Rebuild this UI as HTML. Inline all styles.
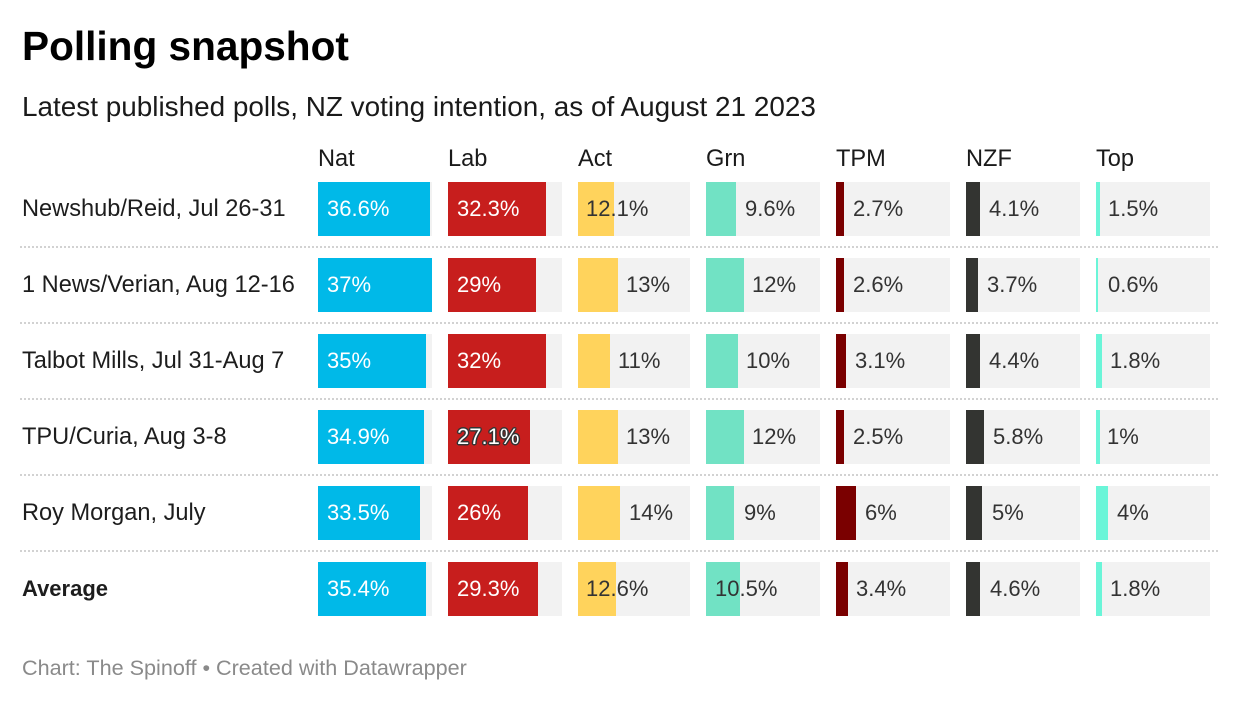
<!DOCTYPE html>
<html>
<head>
<meta charset="utf-8">
<style>
  html,body{margin:0;padding:0;background:#fff;}
  body{width:1240px;height:702px;position:relative;overflow:hidden;font-family:"Liberation Sans",Arial,sans-serif;}
  .a{position:absolute;white-space:nowrap;}
  .t{font-size:40.6px;font-weight:bold;color:#000;line-height:1;}
  .st{font-size:27.9px;color:#1a1a1a;line-height:1;}
  .h{font-size:23.6px;color:#1a1a1a;line-height:1;}
  .rl{font-size:23.6px;color:#1d1d1d;line-height:54px;height:54px;}
  .g{position:absolute;height:54px;background:#f2f2f2;}
  .b{position:absolute;height:54px;}
  .v{position:absolute;font-size:22px;line-height:54px;height:54px;color:#333;white-space:nowrap;}
  .w{color:#fff;}
  .sk{color:#fff;text-shadow:-1px -1px 0 #333,1px -1px 0 #333,-1px 1px 0 #333,1px 1px 0 #333,0 -1.5px 0 #333,0 1.5px 0 #333,-1.5px 0 0 #333,1.5px 0 0 #333;}
  .sep{position:absolute;left:20px;width:1198px;height:2px;background-image:linear-gradient(to right,#d2d2d2 2px,transparent 2px);background-size:4px 2px;background-repeat:repeat-x;}
  .ft{font-size:21.6px;color:#8a8a8a;line-height:1;}
</style>
</head>
<body>
<div class="a t" style="left:22px;top:25.6px;">Polling snapshot</div>
<div class="a st" style="left:22px;top:93.4px;">Latest published polls, NZ voting intention, as of August 21 2023</div>

<div class="a h" style="left:318px;top:148px;">Nat</div>
<div class="a h" style="left:448px;top:148px;">Lab</div>
<div class="a h" style="left:578px;top:148px;">Act</div>
<div class="a h" style="left:706px;top:148px;">Grn</div>
<div class="a h" style="left:836px;top:148px;">TPM</div>
<div class="a h" style="left:966px;top:148px;">NZF</div>
<div class="a h" style="left:1096px;top:148px;">Top</div>

<!-- Row 1 -->
<div class="a rl" style="left:22px;top:182px;">Newshub/Reid, Jul 26-31</div>
<div class="g" style="left:318px;top:182px;width:114px"></div><div class="b" style="left:318px;top:182px;width:112px;background:#00b9e8"></div><div class="v w" style="left:327px;top:182px">36.6%</div>
<div class="g" style="left:448px;top:182px;width:114px"></div><div class="b" style="left:448px;top:182px;width:98px;background:#c71e1d"></div><div class="v w" style="left:457px;top:182px">32.3%</div>
<div class="g" style="left:578px;top:182px;width:112px"></div><div class="b" style="left:578px;top:182px;width:36px;background:#ffd35c"></div><div class="v" style="left:586px;top:182px">12.1%</div>
<div class="g" style="left:706px;top:182px;width:114px"></div><div class="b" style="left:706px;top:182px;width:30px;background:#71e2c4"></div><div class="v" style="left:745px;top:182px">9.6%</div>
<div class="g" style="left:836px;top:182px;width:114px"></div><div class="b" style="left:836px;top:182px;width:8px;background:#7a0000"></div><div class="v" style="left:853px;top:182px">2.7%</div>
<div class="g" style="left:966px;top:182px;width:114px"></div><div class="b" style="left:966px;top:182px;width:14px;background:#333431"></div><div class="v" style="left:989px;top:182px">4.1%</div>
<div class="g" style="left:1096px;top:182px;width:114px"></div><div class="b" style="left:1096px;top:182px;width:4px;background:#6af5d8"></div><div class="v" style="left:1108px;top:182px">1.5%</div>

<div class="sep" style="top:246px"></div>

<!-- Row 2 -->
<div class="a rl" style="left:22px;top:258px;">1 News/Verian, Aug 12-16</div>
<div class="g" style="left:318px;top:258px;width:114px"></div><div class="b" style="left:318px;top:258px;width:114px;background:#00b9e8"></div><div class="v w" style="left:327px;top:258px">37%</div>
<div class="g" style="left:448px;top:258px;width:114px"></div><div class="b" style="left:448px;top:258px;width:88px;background:#c71e1d"></div><div class="v w" style="left:457px;top:258px">29%</div>
<div class="g" style="left:578px;top:258px;width:112px"></div><div class="b" style="left:578px;top:258px;width:40px;background:#ffd35c"></div><div class="v" style="left:626px;top:258px">13%</div>
<div class="g" style="left:706px;top:258px;width:114px"></div><div class="b" style="left:706px;top:258px;width:38px;background:#71e2c4"></div><div class="v" style="left:752px;top:258px">12%</div>
<div class="g" style="left:836px;top:258px;width:114px"></div><div class="b" style="left:836px;top:258px;width:8px;background:#7a0000"></div><div class="v" style="left:853px;top:258px">2.6%</div>
<div class="g" style="left:966px;top:258px;width:114px"></div><div class="b" style="left:966px;top:258px;width:12px;background:#333431"></div><div class="v" style="left:987px;top:258px">3.7%</div>
<div class="g" style="left:1096px;top:258px;width:114px"></div><div class="b" style="left:1096px;top:258px;width:2px;background:#6af5d8"></div><div class="v" style="left:1108px;top:258px">0.6%</div>

<div class="sep" style="top:322px"></div>

<!-- Row 3 -->
<div class="a rl" style="left:22px;top:334px;">Talbot Mills, Jul 31-Aug 7</div>
<div class="g" style="left:318px;top:334px;width:114px"></div><div class="b" style="left:318px;top:334px;width:108px;background:#00b9e8"></div><div class="v w" style="left:327px;top:334px">35%</div>
<div class="g" style="left:448px;top:334px;width:114px"></div><div class="b" style="left:448px;top:334px;width:98px;background:#c71e1d"></div><div class="v w" style="left:457px;top:334px">32%</div>
<div class="g" style="left:578px;top:334px;width:112px"></div><div class="b" style="left:578px;top:334px;width:32px;background:#ffd35c"></div><div class="v" style="left:618px;top:334px">11%</div>
<div class="g" style="left:706px;top:334px;width:114px"></div><div class="b" style="left:706px;top:334px;width:32px;background:#71e2c4"></div><div class="v" style="left:746px;top:334px">10%</div>
<div class="g" style="left:836px;top:334px;width:114px"></div><div class="b" style="left:836px;top:334px;width:10px;background:#7a0000"></div><div class="v" style="left:855px;top:334px">3.1%</div>
<div class="g" style="left:966px;top:334px;width:114px"></div><div class="b" style="left:966px;top:334px;width:14px;background:#333431"></div><div class="v" style="left:989px;top:334px">4.4%</div>
<div class="g" style="left:1096px;top:334px;width:114px"></div><div class="b" style="left:1096px;top:334px;width:6px;background:#6af5d8"></div><div class="v" style="left:1110px;top:334px">1.8%</div>

<div class="sep" style="top:398px"></div>

<!-- Row 4 -->
<div class="a rl" style="left:22px;top:410px;">TPU/Curia, Aug 3-8</div>
<div class="g" style="left:318px;top:410px;width:114px"></div><div class="b" style="left:318px;top:410px;width:106px;background:#00b9e8"></div><div class="v w" style="left:327px;top:410px">34.9%</div>
<div class="g" style="left:448px;top:410px;width:114px"></div><div class="b" style="left:448px;top:410px;width:82px;background:#c71e1d"></div><div class="v sk" style="left:457px;top:410px">27.1%</div>
<div class="g" style="left:578px;top:410px;width:112px"></div><div class="b" style="left:578px;top:410px;width:40px;background:#ffd35c"></div><div class="v" style="left:626px;top:410px">13%</div>
<div class="g" style="left:706px;top:410px;width:114px"></div><div class="b" style="left:706px;top:410px;width:38px;background:#71e2c4"></div><div class="v" style="left:752px;top:410px">12%</div>
<div class="g" style="left:836px;top:410px;width:114px"></div><div class="b" style="left:836px;top:410px;width:8px;background:#7a0000"></div><div class="v" style="left:853px;top:410px">2.5%</div>
<div class="g" style="left:966px;top:410px;width:114px"></div><div class="b" style="left:966px;top:410px;width:18px;background:#333431"></div><div class="v" style="left:993px;top:410px">5.8%</div>
<div class="g" style="left:1096px;top:410px;width:114px"></div><div class="b" style="left:1096px;top:410px;width:4px;background:#6af5d8"></div><div class="v" style="left:1107px;top:410px">1%</div>

<div class="sep" style="top:474px"></div>

<!-- Row 5 -->
<div class="a rl" style="left:22px;top:486px;">Roy Morgan, July</div>
<div class="g" style="left:318px;top:486px;width:114px"></div><div class="b" style="left:318px;top:486px;width:102px;background:#00b9e8"></div><div class="v w" style="left:327px;top:486px">33.5%</div>
<div class="g" style="left:448px;top:486px;width:114px"></div><div class="b" style="left:448px;top:486px;width:80px;background:#c71e1d"></div><div class="v w" style="left:457px;top:486px">26%</div>
<div class="g" style="left:578px;top:486px;width:112px"></div><div class="b" style="left:578px;top:486px;width:42px;background:#ffd35c"></div><div class="v" style="left:629px;top:486px">14%</div>
<div class="g" style="left:706px;top:486px;width:114px"></div><div class="b" style="left:706px;top:486px;width:28px;background:#71e2c4"></div><div class="v" style="left:744px;top:486px">9%</div>
<div class="g" style="left:836px;top:486px;width:114px"></div><div class="b" style="left:836px;top:486px;width:20px;background:#7a0000"></div><div class="v" style="left:865px;top:486px">6%</div>
<div class="g" style="left:966px;top:486px;width:114px"></div><div class="b" style="left:966px;top:486px;width:16px;background:#333431"></div><div class="v" style="left:992px;top:486px">5%</div>
<div class="g" style="left:1096px;top:486px;width:114px"></div><div class="b" style="left:1096px;top:486px;width:12px;background:#6af5d8"></div><div class="v" style="left:1117px;top:486px">4%</div>

<div class="sep" style="top:550px"></div>

<!-- Row 6 -->
<div class="a rl" style="left:22px;top:562px;font-weight:bold;font-size:22px;">Average</div>
<div class="g" style="left:318px;top:562px;width:114px"></div><div class="b" style="left:318px;top:562px;width:108px;background:#00b9e8"></div><div class="v w" style="left:327px;top:562px">35.4%</div>
<div class="g" style="left:448px;top:562px;width:114px"></div><div class="b" style="left:448px;top:562px;width:90px;background:#c71e1d"></div><div class="v w" style="left:457px;top:562px">29.3%</div>
<div class="g" style="left:578px;top:562px;width:112px"></div><div class="b" style="left:578px;top:562px;width:38px;background:#ffd35c"></div><div class="v" style="left:586px;top:562px">12.6%</div>
<div class="g" style="left:706px;top:562px;width:114px"></div><div class="b" style="left:706px;top:562px;width:34px;background:#71e2c4"></div><div class="v" style="left:715px;top:562px">10.5%</div>
<div class="g" style="left:836px;top:562px;width:114px"></div><div class="b" style="left:836px;top:562px;width:12px;background:#7a0000"></div><div class="v" style="left:856px;top:562px">3.4%</div>
<div class="g" style="left:966px;top:562px;width:114px"></div><div class="b" style="left:966px;top:562px;width:14px;background:#333431"></div><div class="v" style="left:990px;top:562px">4.6%</div>
<div class="g" style="left:1096px;top:562px;width:114px"></div><div class="b" style="left:1096px;top:562px;width:6px;background:#6af5d8"></div><div class="v" style="left:1110px;top:562px">1.8%</div>

<div class="a ft" style="left:22px;top:657.4px;">Chart: The Spinoff • Created with Datawrapper</div>
</body>
</html>
